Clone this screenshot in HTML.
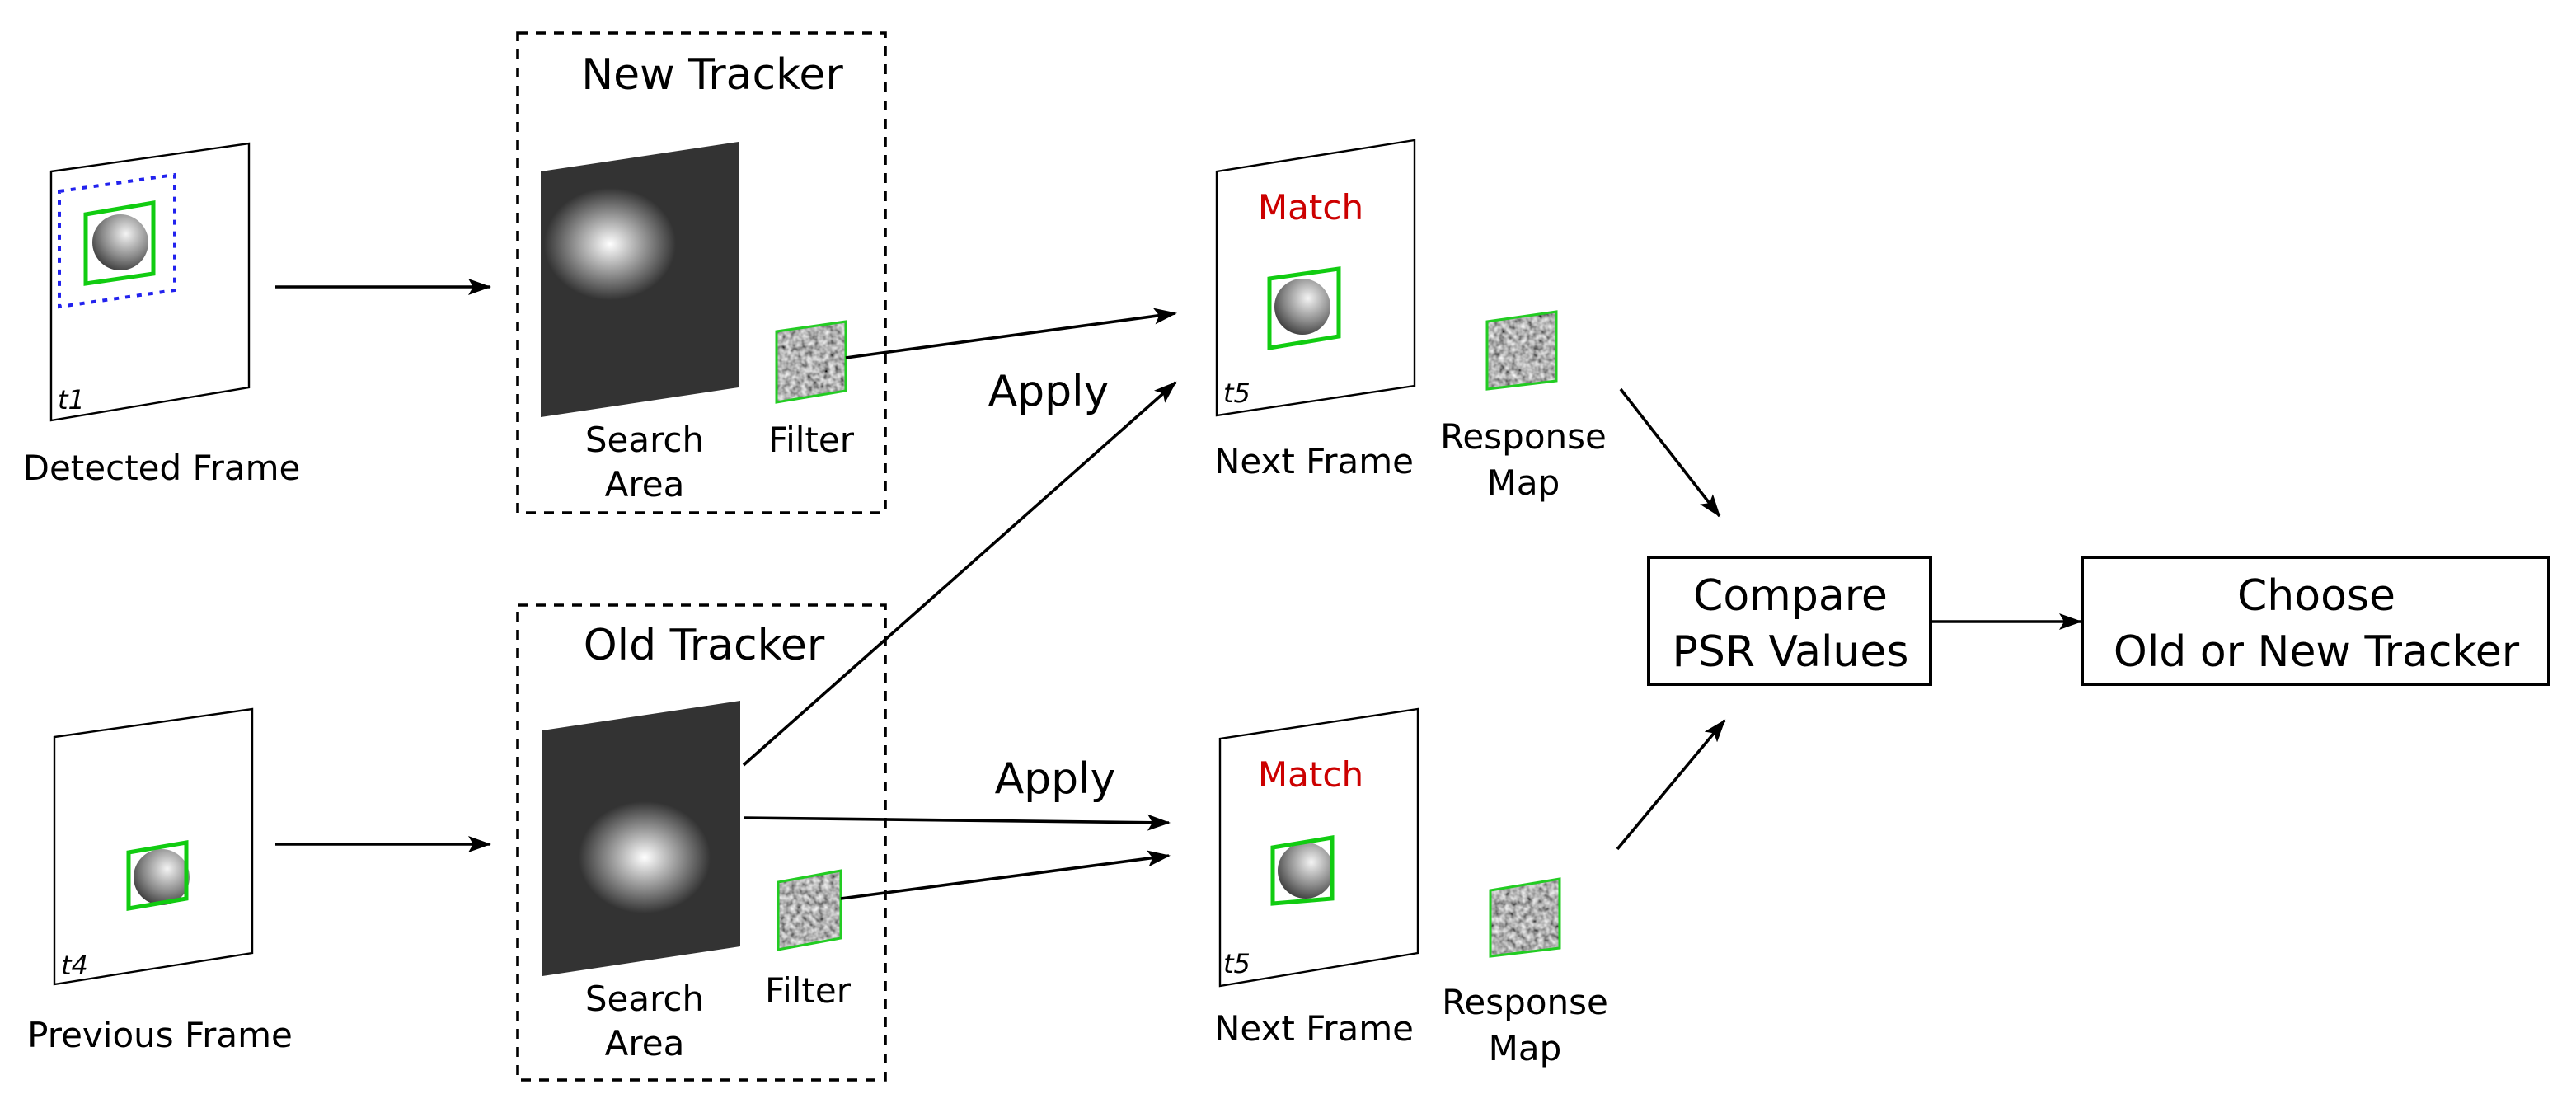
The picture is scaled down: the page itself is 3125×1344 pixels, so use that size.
<!DOCTYPE html>
<html><head><meta charset="utf-8"><style>
html,body{margin:0;padding:0;background:#fff;}
svg{display:block;}
text{font-family:"DejaVu Sans","Liberation Sans",sans-serif;}
</style></head><body>
<svg width="3125" height="1344" viewBox="0 0 1562.5 672" xmlns="http://www.w3.org/2000/svg">
<defs>
<marker id="ah" markerWidth="14" markerHeight="10" refX="13" refY="5" orient="auto" markerUnits="userSpaceOnUse">
<path d="M0,0 L14,5 L0,10 L3,5 Z" fill="#000"/></marker>
<radialGradient id="ball" cx="0.6" cy="0.35" r="0.7">
<stop offset="0" stop-color="#f4f4f4"/><stop offset="0.6" stop-color="#8a8a8a"/><stop offset="1" stop-color="#3a3a3a"/></radialGradient>
<radialGradient id="glow"><stop offset="0" stop-color="#fff"/><stop offset="1" stop-color="#333"/></radialGradient>
<filter id="noise" x="0" y="0" width="100%" height="100%">
<feTurbulence type="fractalNoise" baseFrequency="0.3" numOctaves="2" seed="3"/>
<feColorMatrix type="matrix" values="1.2 0 0 0 -0.15  1.2 0 0 0 -0.15  1.2 0 0 0 -0.15  0 0 0 0 1"/>
</filter>
<clipPath id="c1"><polygon points="471,201 513,195 513,237 471,244"/></clipPath>
<clipPath id="c2"><polygon points="472,535 510,528 510,569 472,576"/></clipPath>
<clipPath id="c3"><polygon points="902,195 944,189 944,231 902,236"/></clipPath>
<clipPath id="c4"><polygon points="904,540 946,533 946,575 904,580"/></clipPath>
</defs>
<g stroke="#000" fill="none">
<polygon points="31,104 151,87 151,235 31,255" fill="#fff" stroke-width="1.2"/>
<polygon points="36,116 106,106 106,176 36,186" stroke="#2222ee" stroke-width="2" stroke-dasharray="3,4"/>
<circle cx="73" cy="147" r="17" fill="url(#ball)" stroke="none"/>
<polygon points="52,130 93,123 93,166 52,172" stroke="#11cc11" stroke-width="2.5"/>
<polygon points="33,447 153,430 153,578 33,597" fill="#fff" stroke-width="1.2"/>
<circle cx="98" cy="532" r="17" fill="url(#ball)" stroke="none"/>
<polygon points="78,517 113,511 113,545 78,551" stroke="#11cc11" stroke-width="2.5"/>
<rect x="314" y="20" width="223" height="291" stroke-width="1.8" stroke-dasharray="6,5"/>
<rect x="314" y="367" width="223" height="288" stroke-width="1.8" stroke-dasharray="6,5"/>
<polygon points="328,104 448,86 448,235 328,253" fill="#333" stroke="none"/>
<ellipse cx="370" cy="148" rx="40" ry="34" fill="url(#glow)" stroke="none"/>
<polygon points="329,443 449,425 449,574 329,592" fill="#333" stroke="none"/>
<ellipse cx="391" cy="520" rx="40" ry="34" fill="url(#glow)" stroke="none"/>
<g stroke="none">
<g clip-path="url(#c1)"><rect x="460" y="185" width="65" height="70" filter="url(#noise)"/></g>
<g clip-path="url(#c2)"><rect x="460" y="520" width="65" height="70" filter="url(#noise)"/></g>
<g clip-path="url(#c3)"><rect x="890" y="180" width="65" height="70" filter="url(#noise)"/></g>
<g clip-path="url(#c4)"><rect x="890" y="525" width="65" height="70" filter="url(#noise)"/></g>
</g>
<polygon points="471,201 513,195 513,237 471,244" stroke="#22cc22" stroke-width="1.5"/>
<polygon points="472,535 510,528 510,569 472,576" stroke="#22cc22" stroke-width="1.5"/>
<polygon points="902,195 944,189 944,231 902,236" stroke="#22cc22" stroke-width="1.5"/>
<polygon points="904,540 946,533 946,575 904,580" stroke="#22cc22" stroke-width="1.5"/>
<polygon points="738,104 858,85 858,234 738,252" fill="#fff" stroke-width="1.2"/>
<circle cx="790" cy="186" r="17" fill="url(#ball)" stroke="none"/>
<polygon points="770,169 812,163 812,204 770,211" stroke="#11cc11" stroke-width="2.5"/>
<polygon points="740,448 860,430 860,578 740,598" fill="#fff" stroke-width="1.2"/>
<circle cx="792" cy="528" r="17" fill="url(#ball)" stroke="none"/>
<polygon points="772,514 808,508 808,545 772,548" stroke="#11cc11" stroke-width="2.5"/>
<rect x="1000" y="338" width="171" height="77" stroke-width="2"/>
<rect x="1263" y="338" width="283" height="77" stroke-width="2"/>
<g stroke-width="1.8" marker-end="url(#ah)">
<line x1="167" y1="174" x2="297" y2="174"/>
<line x1="167" y1="512" x2="297" y2="512"/>
<line x1="513" y1="217" x2="713" y2="190"/>
<line x1="451" y1="464" x2="713" y2="232"/>
<line x1="451" y1="496" x2="709" y2="499"/>
<line x1="510" y1="545" x2="709" y2="519"/>
<line x1="983" y1="236" x2="1043" y2="313"/>
<line x1="981" y1="515" x2="1046" y2="437"/>
<line x1="1172" y1="377" x2="1262" y2="377"/>
</g>
</g>
<g fill="#000">
<text x="35" y="248" font-size="16" font-style="italic">t1</text>
<text x="37" y="591" font-size="16" font-style="italic">t4</text>
<text x="742" y="244" font-size="16" font-style="italic">t5</text>
<text x="742" y="590" font-size="16" font-style="italic">t5</text>
<g text-anchor="middle" font-size="21">
<text x="98" y="291">Detected Frame</text>
<text x="97" y="635">Previous Frame</text>
<text x="391" y="274">Search</text><text x="391" y="301">Area</text>
<text x="492" y="274">Filter</text>
<text x="391" y="613">Search</text><text x="391" y="640">Area</text>
<text x="490" y="608">Filter</text>
<text x="797" y="287">Next Frame</text>
<text x="797" y="631">Next Frame</text>
<text x="924" y="272">Response</text><text x="924" y="300">Map</text>
<text x="925" y="615">Response</text><text x="925" y="643">Map</text>
</g>
<g text-anchor="middle" font-size="26">
<text x="432" y="54">New Tracker</text>
<text x="427" y="400">Old Tracker</text>
<text x="636" y="246">Apply</text>
<text x="640" y="481">Apply</text>
<text x="1086" y="370">Compare</text>
<text x="1086" y="404">PSR Values</text>
<text x="1405" y="370">Choose</text>
<text x="1405" y="404">Old or New Tracker</text>
</g>
<g text-anchor="middle" font-size="21" fill="#cc0000">
<text x="795" y="133">Match</text>
<text x="795" y="477">Match</text>
</g>
</g>
</svg>
</body></html>
